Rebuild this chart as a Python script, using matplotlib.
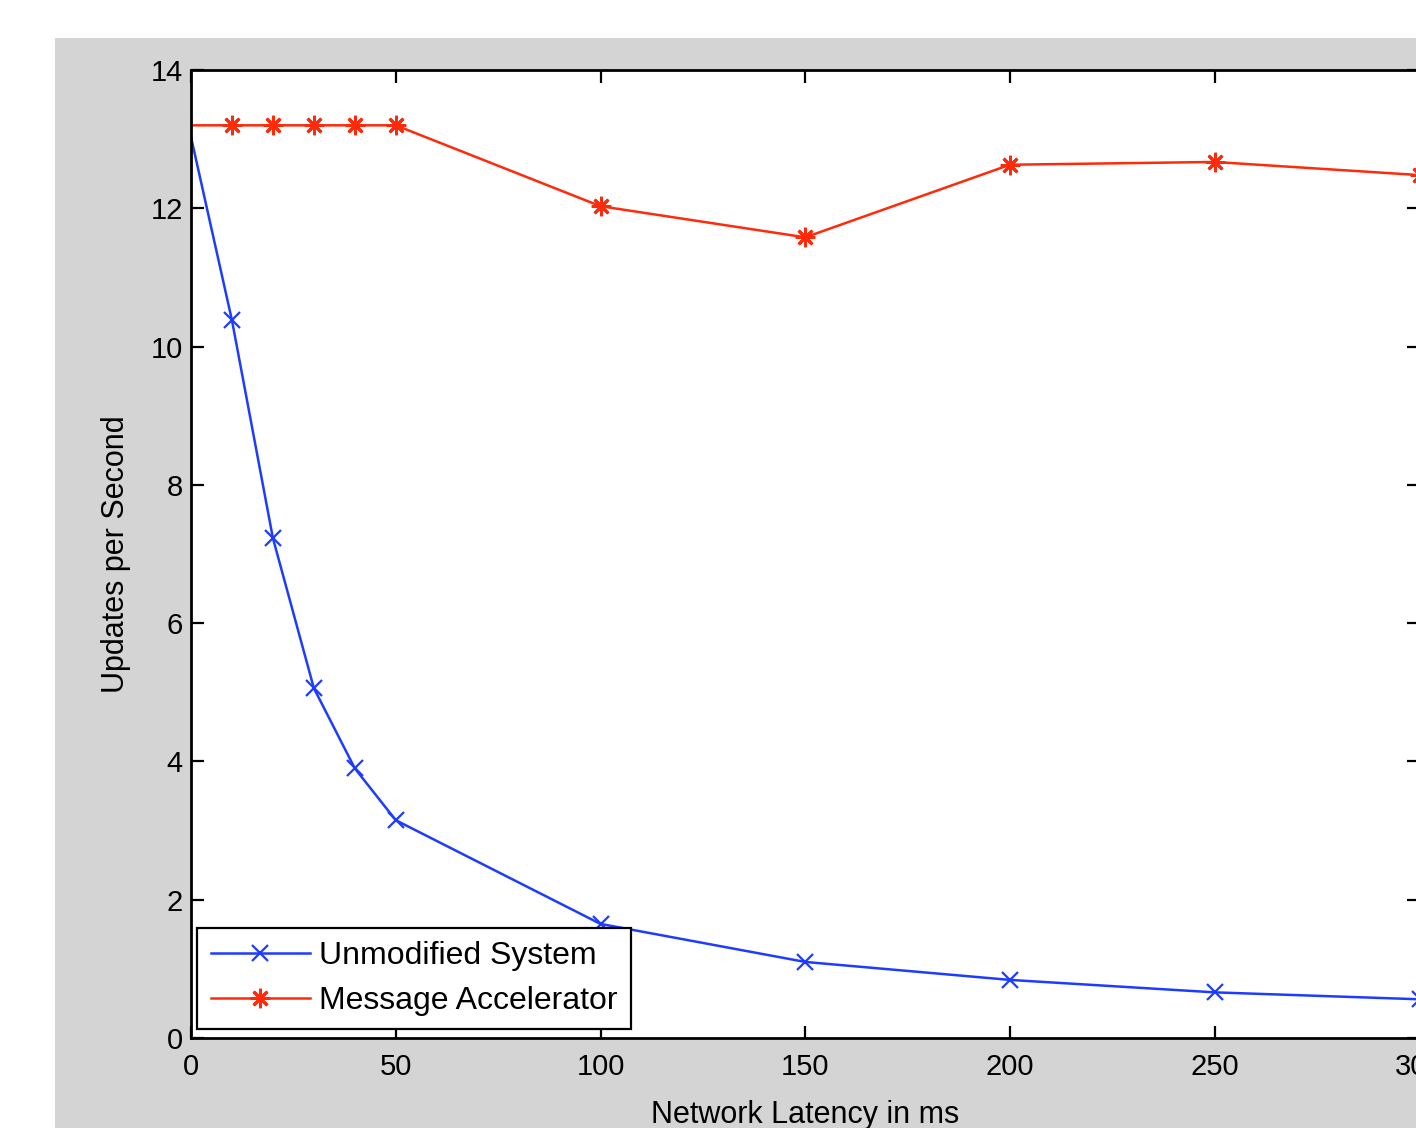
import numpy as np
import matplotlib
matplotlib.use('Agg')
import matplotlib.pyplot as plt
from matplotlib.patches import Rectangle

# latency in ms
latency = [0, 10, 20, 30, 40, 50, 100, 150, 200, 250, 300]
# updates per second
unmodified = [13.03, 10.38, 7.23, 5.06, 3.90, 3.15, 1.65, 1.10, 0.84, 0.66, 0.56]
accelerator = [13.2, 13.2, 13.2, 13.2, 13.2, 13.2, 12.03, 11.58, 12.63, 12.67, 12.48]

x_ticks = [0, 50, 100, 150, 200, 250, 300]
y_ticks = [0, 2, 4, 6, 8, 10, 12, 14]

plt.rcParams['font.family'] = ['Liberation Sans', 'DejaVu Sans']

W, H = 1416, 1128
fig = plt.figure(figsize=(W / 100, H / 100), dpi=100)
fig.patch.set_facecolor('white')
# grey figure area (the picture is a crop of a matlab window)
fig.patches.append(Rectangle((55 / W, 0), 1, (H - 38) / H, transform=fig.transFigure,
                             facecolor='#d4d4d4', edgecolor='none', zorder=-10))

ax_l, ax_r = 191 / W, 1419.5 / W
ax_b, ax_t = (H - 1038) / H, (H - 70) / H
ax = fig.add_axes([ax_l, ax_b, ax_r - ax_l, ax_t - ax_b])
ax.set_facecolor('white')

blue = '#1e3cff'
red = '#ff2a0a'
ax.plot(latency, unmodified, color=blue, lw=1.8, marker='x', ms=11, mew=1.6,
        markevery=slice(1, None), label='Unmodified System')
ax.plot(latency, accelerator, color=red, lw=1.8, marker=(8, 2, 0), ms=14, mew=2.0,
        markevery=slice(1, None), label='Message Accelerator')

ax.set_xlim(0, 300)
ax.set_ylim(0, 14)
ax.set_xticks(x_ticks)
ax.set_yticks(y_ticks)
ax.tick_params(direction='in', length=9, width=1.6, top=True, right=True,
               labelsize=21, color='black')
ax.tick_params(axis='x', pad=11)
ax.tick_params(axis='y', pad=6)
for s in ax.spines.values():
    s.set_linewidth(2)

ax.set_xlabel('Network Latency in ms', fontsize=22)
ax.xaxis.set_label_coords(0.5, -0.064)
ax.xaxis.label.set_va('top')
ax.set_ylabel('Updates per Second', fontsize=22)
ax.yaxis.set_label_coords(-0.049, 0.5)

leg = ax.legend(loc='lower left', bbox_to_anchor=(0.005, 0.009), fontsize=23,
                fancybox=False, framealpha=1, edgecolor='black', handlelength=3.1,
                borderpad=0.42, labelspacing=0.45, handletextpad=0.3,
                borderaxespad=0)
leg.get_frame().set_linewidth(1.6)

fig.savefig('out.png', dpi=100)
